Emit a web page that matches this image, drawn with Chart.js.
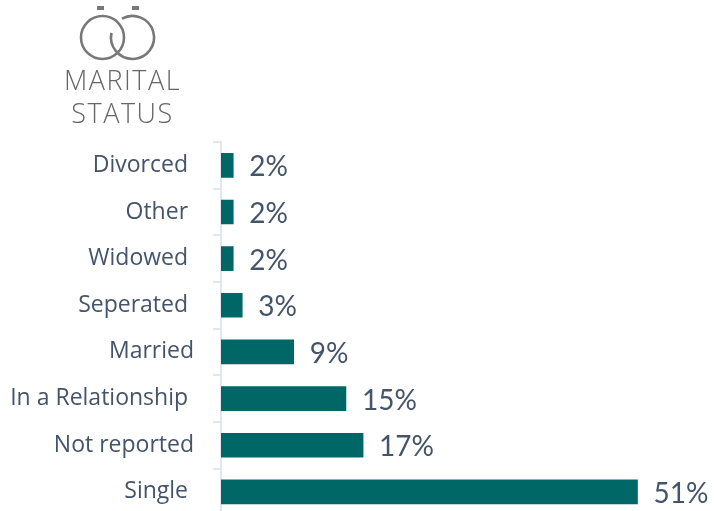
<!DOCTYPE html>
<html>
<head>
<meta charset="utf-8">
<script src="https://cdn.jsdelivr.net/npm/chart.js@4"></script>
<style>
html,body{margin:0;padding:0;background:#fff;overflow:hidden}
#wrap{position:relative;width:714px;height:511px;overflow:hidden}
#maritalChart{display:block}
#icon{position:absolute;left:0;top:0}
.head{position:absolute;left:0;width:245px;text-align:center;font-family:"Open Sans",sans-serif;font-weight:300;font-size:27px;letter-spacing:1.5px;color:#666;line-height:30px}
</style>
</head>
<body>
<div id="wrap">
<canvas id="maritalChart" width="714" height="548"></canvas>
<svg id="icon" width="200" height="70" fill="none" stroke="#787878" stroke-width="2.6">
<rect x="97" y="6" width="7" height="4" fill="#787878" stroke="none"/>
<rect x="132" y="6" width="7" height="4" fill="#787878" stroke="none"/>
<circle cx="102.5" cy="37.5" r="21.5"/>
<path d="M122 18.7A21.5 21.5 0 1 1 111.5 32.9"/>
</svg>
<div class="head" style="top:65px">MARITAL</div>
<div class="head" style="top:98px">STATUS</div>
</div>
<script>
// DATA
const categories = ['Divorced ','Other ','Widowed ','Seperated ','Married','In a Relationship ','Not reported','Single ']
const barValues = [1.5,1.5,1.5,2.6,8.9,15.3,17.4,51]
const valueLabels = ['2%','2%','2%','3%','9%','15%','17%','51%']

// VALUE LABELS
const valueLabelPlugin = {
id:'valueLabels',
afterDatasetsDraw(chart){
const c = chart.ctx
const bars = chart.getDatasetMeta(0).data
c.save()
c.font = '28px Lato'
c.fillStyle = '#44546a'
c.textAlign = 'left'
c.textBaseline = 'middle'
bars.forEach((bar,i)=>{
c.fillText(valueLabels[i], bar.x+16, bar.y+2)
})
c.restore()
}
}

// CHART
new Chart(document.getElementById('maritalChart'),{
type:'bar',
plugins:[valueLabelPlugin],
data:{
labels:categories,
datasets:[{
data:barValues,
backgroundColor:'#006666',
barThickness:24
}]
},
options:{
indexAxis:'y',
responsive:false,
animation:false,
layout:{padding:{top:142,right:3,left:0,bottom:0}},
plugins:{legend:{display:false},tooltip:{enabled:false}},
scales:{
x:{display:false,min:0,max:60},
y:{
afterFit(axis){axis.width=221},
border:{color:'#e2e7ee',width:2},
grid:{drawOnChartArea:false,color:'#e2e7ee',lineWidth:2,tickLength:8},
ticks:{color:'#44546a',font:{family:'Open Sans',size:23},padding:19,crossAlign:'near'}
}
}
}
})
</script>
</body>
</html>
